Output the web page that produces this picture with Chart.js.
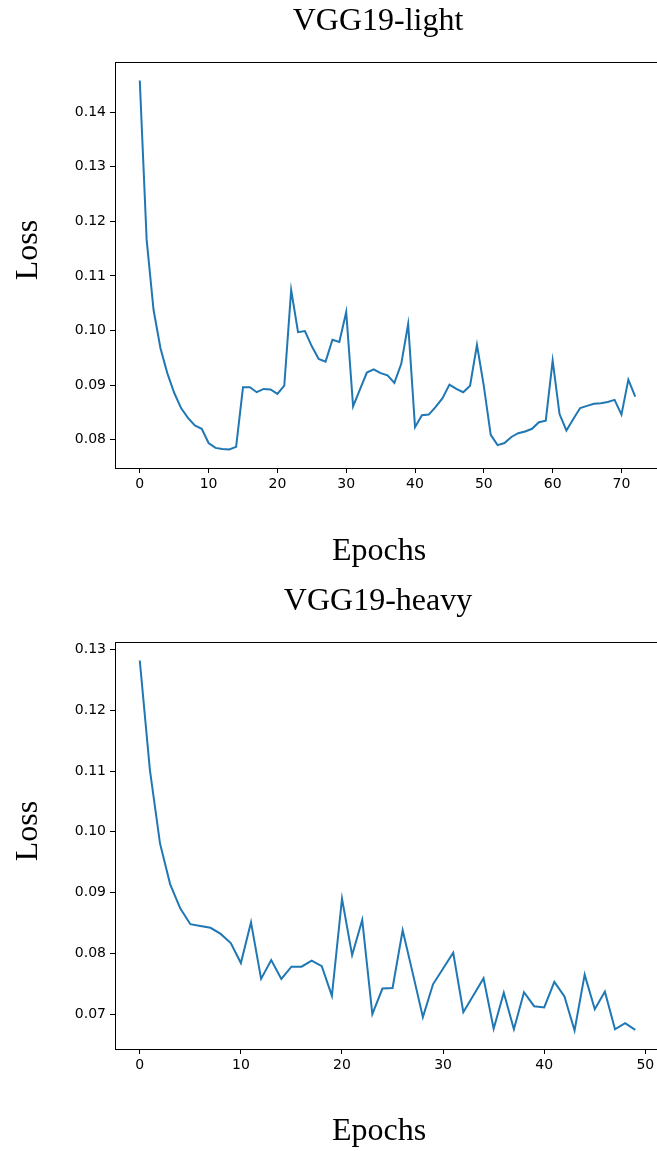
<!DOCTYPE html>
<html>
<head>
<meta charset="utf-8">
<script src="https://cdn.jsdelivr.net/npm/chart.js@4"></script>
<style>
  html, body { margin: 0; padding: 0; background: #fff; overflow: hidden; }
  canvas { position: absolute; left: 0; }
  #lightChart { top: 0; }
  #heavyChart { top: 580px; }
</style>
</head>
<body>
<canvas id="lightChart" width="662" height="580"></canvas>
<canvas id="heavyChart" width="662" height="571"></canvas>
<script>
// loss per epoch
const lightLoss = [
    0.1458, 0.1166, 0.1038, 0.0968, 0.0922, 0.0886, 0.0858, 0.0840, 0.0826, 0.0820,
    0.0794, 0.0785, 0.0783, 0.0782, 0.0787, 0.0896, 0.0896, 0.0887, 0.0893, 0.0892,
    0.0884, 0.0899, 0.1074, 0.0997, 0.0999, 0.0971, 0.0948, 0.0943, 0.0983, 0.0979,
    0.1034, 0.0861, 0.0892, 0.0923, 0.0929, 0.0922, 0.0918, 0.0904, 0.0939, 0.1012,
    0.0823, 0.0845, 0.0846, 0.0860, 0.0876, 0.0901, 0.0893, 0.0887, 0.0899, 0.0974,
    0.0898, 0.0809, 0.0790, 0.0794, 0.0805, 0.0812, 0.0815, 0.0820, 0.0832, 0.0835,
    0.0945, 0.0847, 0.0817, 0.0838, 0.0858, 0.0862, 0.0866, 0.0867, 0.0869, 0.0873,
    0.0846, 0.0910, 0.0879
];
const heavyLoss = [
    0.1282, 0.1102, 0.0981, 0.0914, 0.0874, 0.0848, 0.0845, 0.0842, 0.0832, 0.0817,
    0.0784, 0.0851, 0.0758, 0.0789, 0.0758, 0.0778, 0.0778, 0.0788, 0.0779, 0.0730,
    0.0890, 0.0797, 0.0855, 0.0700, 0.0742, 0.0743, 0.0838, 0.0767, 0.0695, 0.0749,
    0.0775, 0.0801, 0.0703, 0.0731, 0.0759, 0.0676, 0.0735, 0.0675, 0.0736, 0.0713,
    0.0711, 0.0753, 0.0729, 0.0673, 0.0765, 0.0708, 0.0737, 0.0675, 0.0685, 0.0674
];

const lightXTicks = [0, 10, 20, 30, 40, 50, 60, 70];
const lightYTicks = [0.08, 0.09, 0.10, 0.11, 0.12, 0.13, 0.14];
const heavyXTicks = [0, 10, 20, 30, 40, 50];
const heavyYTicks = [0.07, 0.08, 0.09, 0.10, 0.11, 0.12, 0.13];

const LINE_COLOR = '#1f77b4';
const SERIF = "'Liberation Serif', 'DejaVu Serif', serif";
const SANS = "'DejaVu Sans', sans-serif";

// matplotlib-style box around the axes
const framePlugin = {
    id: 'frame',
    afterDraw(chart) {
        const { ctx, chartArea: a } = chart;
        ctx.save();
        ctx.strokeStyle = '#000';
        ctx.lineWidth = 1;
        ctx.strokeRect(Math.round(a.left) + 0.5, Math.round(a.top) + 0.5,
            Math.round(a.right - a.left), Math.round(a.bottom - a.top));
        ctx.restore();
    }
};

// title + axis labels, placed like in the original figure
const labelsPlugin = {
    id: 'figureLabels',
    afterDraw(chart, args, o) {
        const ctx = chart.ctx;
        ctx.save();
        ctx.fillStyle = '#000';
        ctx.font = '32px ' + SERIF;
        ctx.textAlign = 'center';
        ctx.textBaseline = 'alphabetic';
        ctx.fillText(o.title, o.centerX, o.titleBaseline);
        ctx.fillText('Epochs', o.centerX + 1, o.xLabelBaseline);
        ctx.translate(37, o.yLabelCenter);
        ctx.rotate(-Math.PI / 2);
        ctx.fillText('Loss', 0, 0);
        ctx.restore();
    }
};

// 5% margins like matplotlib's autoscale
function padRange(lo, hi) {
    const m = (hi - lo) * 0.05;
    return [lo - m, hi + m];
}

function makeChart(canvasId, title, loss, xTicks, yTicks, xAxisHeight, labelPos) {
    const ctx = document.getElementById(canvasId).getContext('2d');
    const points = loss.map((v, i) => ({ x: i, y: v }));
    const [xMin, xMax] = padRange(0, loss.length - 1);
    const [yMin, yMax] = padRange(Math.min(...loss), Math.max(...loss));

    return new Chart(ctx, {
        type: 'line',
        data: {
            datasets: [{
                data: points,
                borderColor: LINE_COLOR,
                borderWidth: 2,
                pointRadius: 0,
                fill: false,
                tension: 0
            }]
        },
        options: {
            responsive: false,
            animation: false,
            devicePixelRatio: 1,
            layout: { padding: { left: 0, right: 2, top: 62, bottom: 0 } },
            plugins: {
                legend: { display: false },
                tooltip: { enabled: false },
                title: { display: false },
                figureLabels: Object.assign({ title: title }, labelPos)
            },
            scales: {
                x: {
                    type: 'linear',
                    min: xMin,
                    max: xMax,
                    afterBuildTicks: (s) => { s.ticks = xTicks.map(v => ({ value: v })); },
                    afterFit: (s) => { s.height = xAxisHeight; },
                    grid: { display: true, drawOnChartArea: false, drawTicks: true, tickLength: 5, color: '#000' },
                    border: { display: true, color: '#000' },
                    ticks: {
                        color: '#000',
                        font: { family: SANS, size: 14 },
                        padding: 3,
                        maxRotation: 0,
                        callback: (v) => String(v)
                    }
                },
                y: {
                    type: 'linear',
                    min: yMin,
                    max: yMax,
                    afterBuildTicks: (s) => { s.ticks = yTicks.map(v => ({ value: v })); },
                    afterFit: (s) => { s.width = 115; },
                    grid: { display: true, drawOnChartArea: false, drawTicks: true, tickLength: 5, color: '#000' },
                    border: { display: true, color: '#000' },
                    ticks: {
                        color: '#000',
                        font: { family: SANS, size: 14 },
                        padding: 4,
                        callback: (v) => v.toFixed(2)
                    }
                }
            }
        },
        plugins: [framePlugin, labelsPlugin]
    });
}

makeChart('lightChart', 'VGG19-light', lightLoss, lightXTicks, lightYTicks, 112,
    { centerX: 378, titleBaseline: 30, xLabelBaseline: 560, yLabelCenter: 250 });
makeChart('heavyChart', 'VGG19-heavy', heavyLoss, heavyXTicks, heavyYTicks, 102,
    { centerX: 378, titleBaseline: 30, xLabelBaseline: 560, yLabelCenter: 251 });
</script>
</body>
</html>
